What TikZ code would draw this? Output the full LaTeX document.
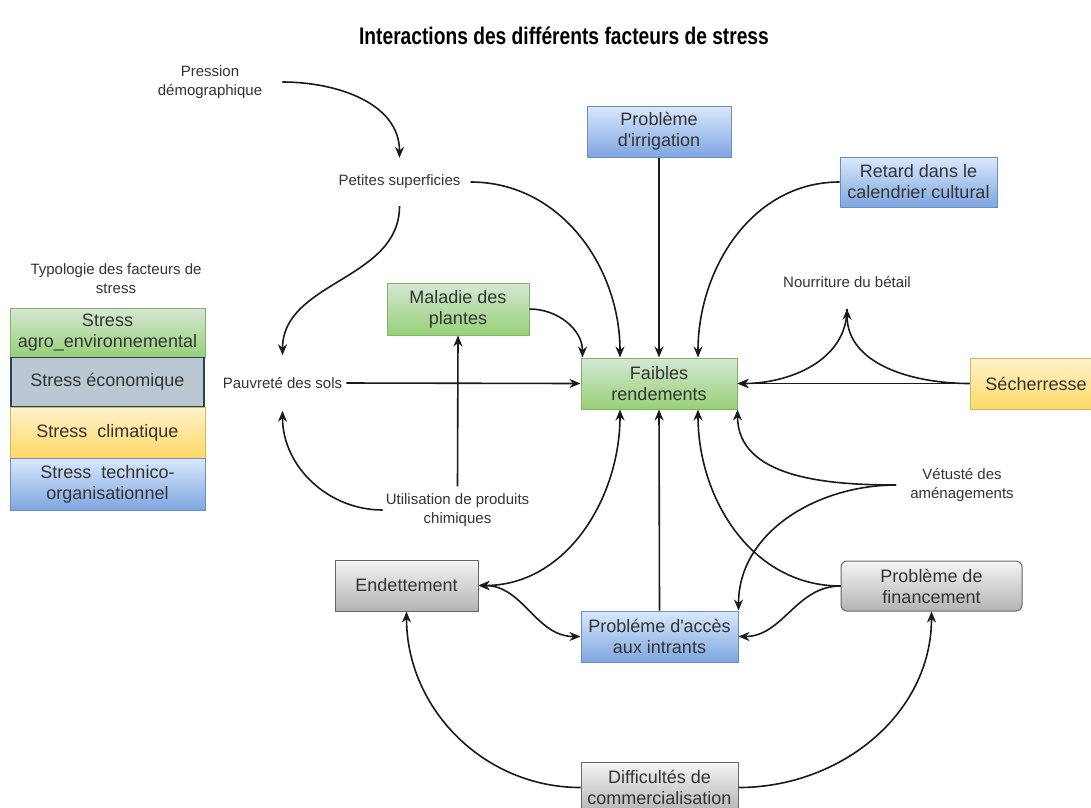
\documentclass[tikz,border=0pt]{standalone}
\usepackage{fontspec}
\setmainfont{Liberation Sans}
\newfontfamily\titlefont[FakeStretch=0.8]{Liberation Sans}
\usetikzlibrary{arrows.meta}
\definecolor{txt}{HTML}{333333}
\definecolor{lnc}{HTML}{1A1A1A}
\definecolor{gtop}{HTML}{D5E8D4}\definecolor{gbot}{HTML}{97D077}\definecolor{gbrd}{HTML}{82B366}
\definecolor{btop}{HTML}{DAE8FC}\definecolor{bbot}{HTML}{7EA6E0}\definecolor{bbrd}{HTML}{6C8EBF}
\definecolor{ytop}{HTML}{FFF2CC}\definecolor{ybot}{HTML}{FFD966}\definecolor{ybrd}{HTML}{D6B656}
\definecolor{ktop}{HTML}{F5F5F5}\definecolor{kbot}{HTML}{B3B3B3}\definecolor{kbrd}{HTML}{666666}
\definecolor{efill}{HTML}{BAC8D3}\definecolor{ebrd}{HTML}{23445D}
\newcommand{\apo}{\textquotesingle}
\tikzset{
  basebox/.style={draw, line width=1pt, align=center, text=txt, inner sep=0pt,
    font=\fontsize{18}{21}\selectfont},
  gbox/.style={basebox, draw=gbrd, top color=gtop, bottom color=gbot},
  bbox/.style={basebox, draw=bbrd, top color=btop, bottom color=bbot},
  ybox/.style={basebox, draw=ybrd, top color=ytop, bottom color=ybot},
  kbox/.style={basebox, draw=kbrd, top color=ktop, bottom color=kbot},
  ebox/.style={basebox, draw=ebrd, line width=1.6pt, fill=efill},
  lbl/.style={align=center, text=txt, font=\fontsize{15}{19}\selectfont},
  arr/.style={draw=lnc, line width=1.6pt, -{Stealth[length=11pt,width=9pt]}},
  arr2/.style={draw=lnc, line width=1.6pt, {Stealth[length=11pt,width=9pt]}-{Stealth[length=11pt,width=9pt]}},
}
\begin{document}
\begin{tikzpicture}[x=1pt,y=-1pt]
\useasboundingbox (0,0) rectangle (1091,807);
% title
\node[font=\titlefont\bfseries\fontsize{24}{28}\selectfont, text=black] (title) at (564,36) {Interactions des différents facteurs de stress};
% legend
\node[lbl] (legt) at (116,279) {Typologie des facteurs de\\stress};
\node[gbox, minimum width=195, minimum height=49] (lg1) at (107.5,332.5) {Stress\\agro\_environnemental};
\node[ebox, minimum width=193, minimum height=49] (lg2) at (107.5,382) {Stress économique};
\node[ybox, minimum width=195, minimum height=51] (lg3) at (107.5,432.5) {Stress\ \ climatique};
\node[bbox, minimum width=195, minimum height=52] (lg4) at (107.5,484) {Stress\ \ technico-\\organisationnel};
% main boxes
\node[gbox, minimum width=156, minimum height=51] (fr) at (659,383.5) {Faibles\\rendements};
\node[gbox, minimum width=142, minimum height=52] (mal) at (458,309) {Maladie des\\plantes};
\node[bbox, minimum width=144, minimum height=51] (irr) at (659,131.5) {Problème\\d\apo irrigation};
\node[bbox, minimum width=157, minimum height=50] (ret) at (918.5,182) {Retard dans le\\calendrier cultural};
\node[ybox, minimum width=132, minimum height=51] (sec) at (1036,383.5) {Sécherresse};
\node[kbox, minimum width=143, minimum height=51] (end) at (406.5,585.5) {Endettement};
\node[bbox, minimum width=157, minimum height=51] (acc) at (659.5,636.5) {Probléme d\apo accès\\aux intrants};
\node[kbox, rounded corners=6pt, minimum width=181, minimum height=50] (fin) at (931.5,586) {Problème de\\financement};
\node[kbox, minimum width=157, minimum height=51] (dif) at (659.5,787.5) {Difficultés de\\commercialisation};
% labels
\node[lbl, inner xsep=20pt, inner ysep=4pt] (pd) at (210,82) {Pression\\démographique};
\node[lbl, inner xsep=10pt, inner ysep=17pt] (ps) at (399.5,182) {Petites superficies};
\node[lbl, inner xsep=4pt, inner ysep=22pt] (pv) at (282.5,383) {Pauvreté des sols};
\node[lbl, inner xsep=3pt, inner ysep=7pt] (ut) at (457.5,510) {Utilisation de produits\\chimiques};
\node[lbl, inner ysep=21pt] (nb) at (847,282) {Nourriture du bétail};
\node[lbl, inner xsep=14pt] (vt) at (962,485) {Vétusté des\\aménagements};
% connectors
\draw[arr] (pd.east) to[out=0,in=90] (ps.north);
\draw[arr] (ps.east) to[out=0,in=90] ([xshift=-39pt]fr.north);
\draw[arr] (ps.south) to[out=-90,in=90] (pv.north);
\draw[arr] (pv.east) -- (fr.west);
\draw[arr] (ut.west) to[out=180,in=-90] (pv.south);
\draw[arr] (ut.north) -- (mal.south);
\draw[arr] (mal.east) to[out=0,in=90] ([xshift=2pt]fr.north west);
\draw[arr] (irr.south) -- (fr.north);
\draw[arr] (ret.west) to[out=180,in=90] ([xshift=39pt]fr.north);
\draw[arr] (sec.west) -- (fr.east);
\draw[arr] (sec.west) to[out=180,in=-90] (nb.south);
\draw[arr] (nb.south) to[out=-90,in=0] (fr.east);
\draw[arr] (vt.west) to[out=180,in=-90] (fr.south east);
\draw[arr] (vt.west) to[out=180,in=90] (acc.north east);
\draw[arr] (fin.west) to[out=180,in=-90] ([xshift=39pt]fr.south);
\draw[arr] (fin.west) to[out=180,in=0] (acc.east);
\draw[arr] (acc.north) -- (fr.south);
\draw[arr2] (end.east) to[out=0,in=-90] ([xshift=-39pt]fr.south);
\draw[arr2] (end.east) to[out=0,in=180] (acc.west);
\draw[arr] (dif.west) to[out=180,in=-90] (end.south);
\draw[arr] (dif.east) to[out=0,in=-90] (fin.south);
\end{tikzpicture}
\end{document}
